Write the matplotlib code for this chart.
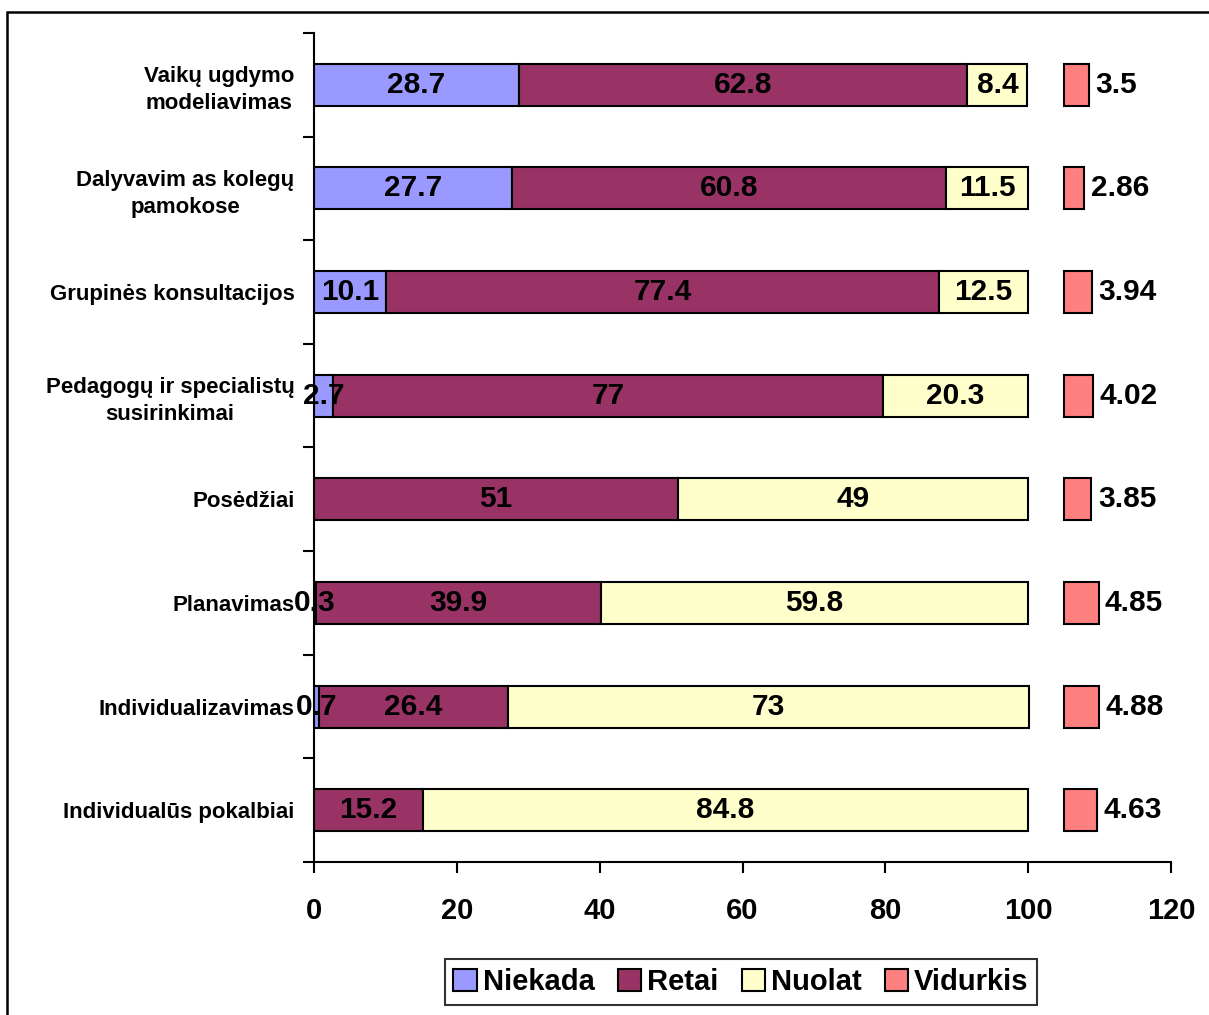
import numpy as np
import matplotlib
matplotlib.use('Agg')
import matplotlib.pyplot as plt
from matplotlib.patches import Rectangle

plt.rcParams['font.family'] = ['Liberation Sans', 'DejaVu Sans']
plt.rcParams['font.weight'] = 'bold'

# data
categories = ['Vaikų ugdymo\nmodeliavimas', 'Dalyvavim as kolegų\npamokose',
              'Grupinės konsultacijos', 'Pedagogų ir specialistų\nsusirinkimai',
              'Posėdžiai', 'Planavimas', 'Individualizavimas',
              'Individualūs pokalbiai']
niekada = [28.7, 27.7, 10.1, 2.7, 0, 0.3, 0.7, 0]
retai = [62.8, 60.8, 77.4, 77, 51, 39.9, 26.4, 15.2]
nuolat = [8.4, 11.5, 12.5, 20.3, 49, 59.8, 73, 84.8]
vidurkis = [3.5, 2.86, 3.94, 4.02, 3.85, 4.85, 4.88, 4.63]
xticks = [0, 20, 40, 60, 80, 100, 120]

c_niek = '#9999FF'
c_ret = '#993366'
c_nuol = '#FFFFCC'
c_vid = '#FF8080'

fig = plt.figure(figsize=(12.09, 10.15), dpi=100)
ax = fig.add_axes([314/1209, 1-862/1015, (1171-314)/1209, (862-33)/1015])

y = np.arange(len(categories))
h = 0.405
niekada = np.array(niekada)
retai = np.array(retai)
nuolat = np.array(nuolat)
vidurkis = np.array(vidurkis)

b1 = ax.barh(y, niekada, height=h, color=c_niek, edgecolor='black', linewidth=1.5, label='Niekada')
b2 = ax.barh(y, retai, left=niekada, height=h, color=c_ret, edgecolor='black', linewidth=1.5, label='Retai')
b3 = ax.barh(y, nuolat, left=niekada + retai, height=h, color=c_nuol, edgecolor='black', linewidth=1.5, label='Nuolat')
b4 = ax.barh(y, vidurkis, left=105, height=h, color=c_vid, edgecolor='black', linewidth=1.5, label='Vidurkis')

# value labels inside segments
lefts = [np.zeros(len(y)), niekada, niekada + retai]
for vals, lf in zip([niekada, retai, nuolat], lefts):
    for i, (v, l) in enumerate(zip(vals, lf)):
        if v > 0:
            ax.text(l + v / 2, i, f'{v:g}', ha='center', va='center',
                    fontsize=21.5, fontweight='bold')
for i, v in enumerate(vidurkis):
    ax.text(105 + v + 0.9, i, f'{v:g}', ha='left', va='center',
            fontsize=21.5, fontweight='bold')

ax.set_xlim(0, 120)
ax.set_ylim(len(categories) - 0.5, -0.5)
ax.set_xticks(xticks)
ax.tick_params(axis='x', direction='out', length=8, width=1.5, pad=17, labelsize=21)
for t in ax.get_xticklabels():
    t.set_fontweight('bold')

ax.set_yticks(y)
ax.set_yticklabels(categories, fontsize=16, fontweight='bold',
                   multialignment='center', linespacing=1.35)
ax.tick_params(axis='y', which='major', length=0, pad=14)
ax.set_yticks(np.arange(len(categories) + 1) - 0.5, minor=True)
ax.tick_params(axis='y', which='minor', direction='out', length=8, width=1.5)

ax.spines['top'].set_visible(False)
ax.spines['right'].set_visible(False)
ax.spines['left'].set_linewidth(1.5)
ax.spines['bottom'].set_linewidth(1.5)

leg = fig.legend(handles=[b1, b2, b3, b4], loc='center', ncol=4,
                 bbox_to_anchor=(741/1209, 1 - 982/1015),
                 prop={'weight': 'bold', 'size': 21}, frameon=True, fancybox=False,
                 edgecolor='black', handlelength=0.8, handleheight=0.8,
                 handletextpad=0.2, columnspacing=0.8, borderpad=0.3)
leg.get_frame().set_linewidth(1.5)

# outer chart border
fig.patches.append(Rectangle((7/1209, -0.1), 1.2, 1 - 12/1015 + 0.1,
                             transform=fig.transFigure, fill=False,
                             edgecolor='black', linewidth=1.8))

fig.savefig('out.png', dpi=100)
